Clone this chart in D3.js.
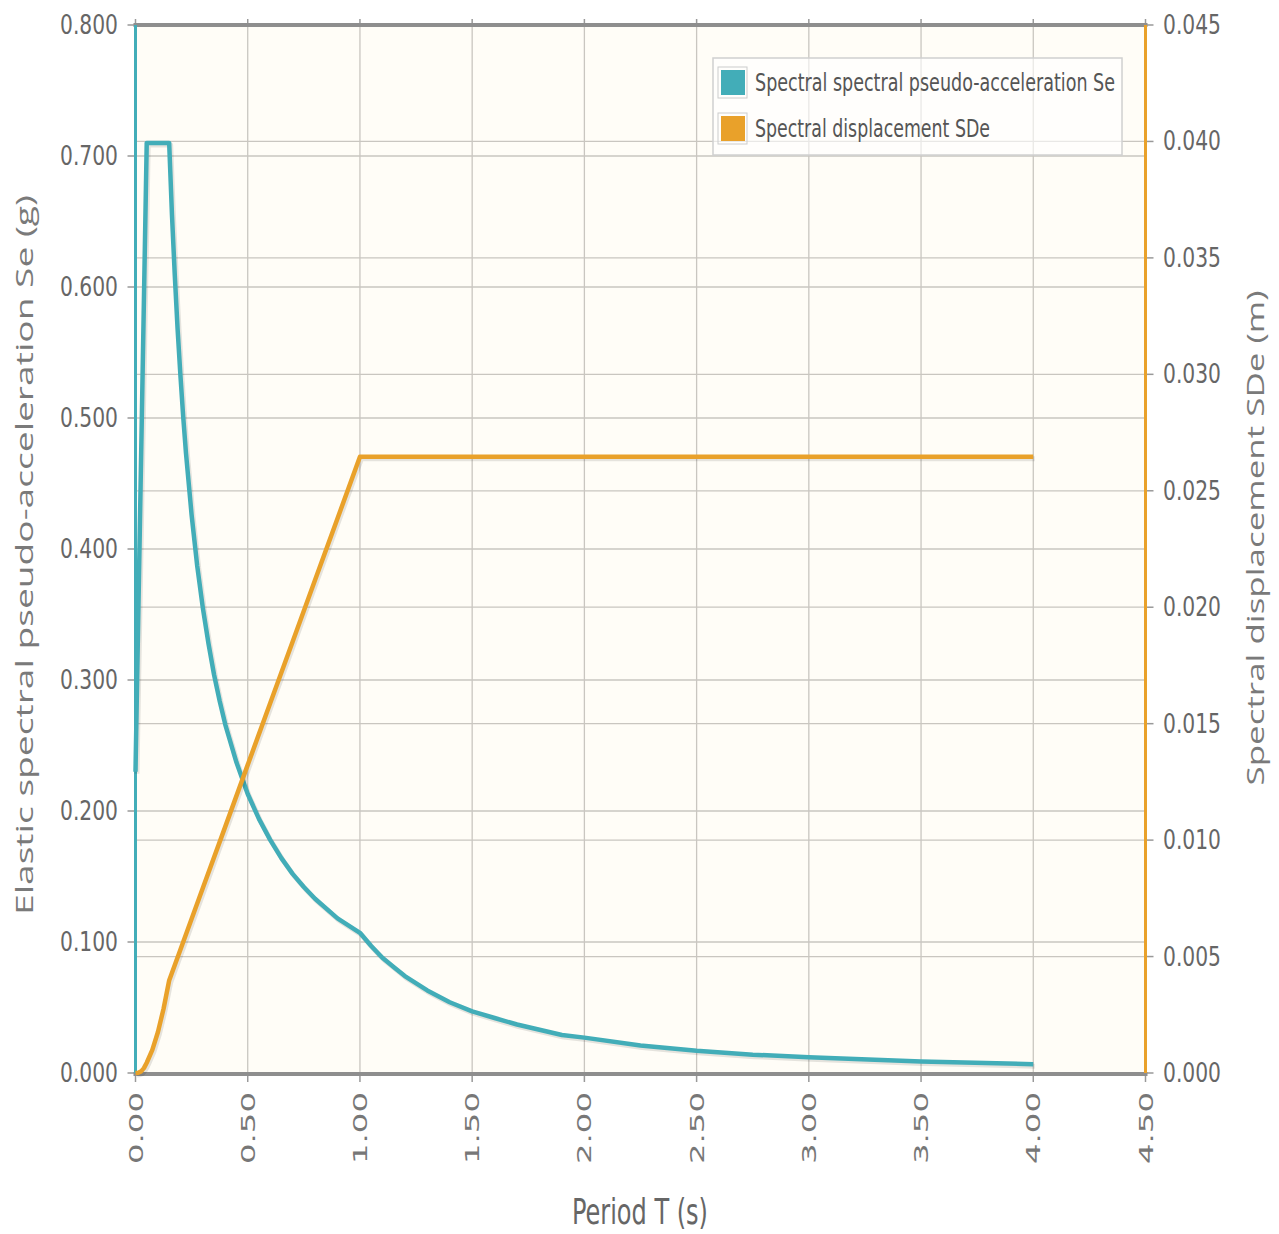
<!DOCTYPE html>
<html>
<head>
<meta charset="utf-8">
<script src="https://cdn.jsdelivr.net/npm/d3@7"></script>
<style>
  html, body { margin: 0; padding: 0; background: #ffffff; }
  svg { display: block; }
</style>
</head>
<body>
<svg id="chart" width="1279" height="1234"></svg>
<script>
// ---- data ----
const periodSe = [0, 0.05, 0.15, 0.1625, 0.175, 0.1875, 0.2, 0.2125, 0.225, 0.25, 0.275, 0.3, 0.325, 0.35, 0.375, 0.4, 0.45, 0.5,
                  0.55, 0.6, 0.65, 0.7, 0.75, 0.8, 0.9, 1.0, 1.05, 1.1, 1.15, 1.2, 1.3, 1.4, 1.5, 1.6, 1.7, 1.8, 1.9, 2.0,
                  2.25, 2.5, 2.75, 3.0, 3.5, 4.0];
const seValues = [0.23, 0.71, 0.71, 0.655, 0.609, 0.568, 0.533, 0.501, 0.473, 0.426, 0.387, 0.355, 0.328, 0.304, 0.284, 0.266, 0.237, 0.213,
                  0.194, 0.178, 0.164, 0.152, 0.142, 0.133, 0.118, 0.107, 0.097, 0.088, 0.081, 0.074, 0.063, 0.054, 0.047, 0.042, 0.037, 0.033, 0.029, 0.027,
                  0.021, 0.017, 0.014, 0.012, 0.0087, 0.0067];
const periodSd = [0, 0.0125, 0.025, 0.0375, 0.05, 0.075, 0.1, 0.125, 0.15, 0.2, 0.3, 0.4, 0.5, 0.6, 0.7, 0.8, 0.9, 1.0, 1.5, 2.0, 2.5, 3.0, 3.5, 4.0];
const sdValues = [0, 0.000014, 0.00007, 0.00021, 0.00044, 0.00099, 0.00176, 0.00276, 0.00397, 0.00529, 0.00794, 0.01058, 0.01323, 0.01588, 0.01852,
                  0.02117, 0.02381, 0.02646, 0.02646, 0.02646, 0.02646, 0.02646, 0.02646, 0.02646];
const xTicks = [0, 0.5, 1.0, 1.5, 2.0, 2.5, 3.0, 3.5, 4.0, 4.5];
const yLeftTicks = [0, 0.1, 0.2, 0.3, 0.4, 0.5, 0.6, 0.7, 0.8];
const yRightTicks = [0, 0.005, 0.01, 0.015, 0.02, 0.025, 0.03, 0.035, 0.04, 0.045];
const seriesNames = ["Spectral spectral pseudo-acceleration Se", "Spectral displacement SDe"];
const seriesColors = ["#42adb8", "#e9a12a"];
const titles = { x: "Period T (s)", yLeft: "Elastic spectral pseudo-acceleration Se  (g)", yRight: "Spectral displacement SDe  (m)" };

// ---- layout ----
const L = 135.5, R = 1145.5, T = 25, B = 1073;
const svg = d3.select("#chart");
const x = d3.scaleLinear().domain([0, 4.5]).range([L, R]);
const yL = d3.scaleLinear().domain([0, 0.8]).range([B, T]);
const yR = d3.scaleLinear().domain([0, 0.045]).range([B, T]);

// background
svg.append("rect").attr("x", L).attr("y", T).attr("width", R - L).attr("height", B - T).attr("fill", "#fffdf7");

// grid
const grid = svg.append("g").attr("stroke", "#c9c6c0").attr("stroke-width", 1.3);
grid.selectAll(".vx").data(xTicks).join("line")
  .attr("x1", d => x(d)).attr("x2", d => x(d)).attr("y1", T).attr("y2", B);
grid.selectAll(".hl").data(yLeftTicks).join("line")
  .attr("x1", L).attr("x2", R).attr("y1", d => yL(d)).attr("y2", d => yL(d));
grid.selectAll(".hr").data(yRightTicks).join("line")
  .attr("x1", L).attr("x2", R).attr("y1", d => yR(d)).attr("y2", d => yR(d));

// tick marks
const tk = svg.append("g").attr("stroke", "#999").attr("stroke-width", 1.5);
tk.selectAll(".tx").data(xTicks).join("line")
  .attr("x1", d => x(d)).attr("x2", d => x(d)).attr("y1", B).attr("y2", B + 9);
tk.selectAll(".tt").data(xTicks).join("line")
  .attr("x1", d => x(d)).attr("x2", d => x(d)).attr("y1", T - 6).attr("y2", T);
tk.selectAll(".tl").data(yLeftTicks).join("line")
  .attr("x1", L - 8).attr("x2", L).attr("y1", d => yL(d)).attr("y2", d => yL(d));
tk.selectAll(".tr").data(yRightTicks).join("line")
  .attr("x1", R).attr("x2", R + 8).attr("y1", d => yR(d)).attr("y2", d => yR(d));

// border
svg.append("line").attr("x1", L - 2).attr("x2", R + 2).attr("y1", T).attr("y2", T).attr("stroke", "#8e8e8e").attr("stroke-width", 4);
svg.append("line").attr("x1", L - 2).attr("x2", R + 2).attr("y1", B + 1).attr("y2", B + 1).attr("stroke", "#8e8e8e").attr("stroke-width", 4);
svg.append("line").attr("x1", L).attr("x2", L).attr("y1", T).attr("y2", B).attr("stroke", seriesColors[0]).attr("stroke-width", 3);
svg.append("line").attr("x1", R).attr("x2", R).attr("y1", T).attr("y2", B).attr("stroke", seriesColors[1]).attr("stroke-width", 3);

// series
const seData = periodSe.map((p, i) => [p, seValues[i]]);
const sdData = periodSd.map((p, i) => [p, sdValues[i]]);
const lineL = d3.line().x(d => x(d[0])).y(d => yL(d[1]));
const lineR = d3.line().x(d => x(d[0])).y(d => yR(d[1]));

[[seData, lineL, 0], [sdData, lineR, 1]].forEach(([data, gen, i]) => {
  svg.append("path").attr("d", gen(data)).attr("fill", "none")
    .attr("stroke", "rgba(0,0,0,0.10)").attr("stroke-width", 5)
    .attr("stroke-linejoin", "round").attr("transform", "translate(1.5,2)");
  svg.append("path").attr("d", gen(data)).attr("fill", "none")
    .attr("stroke", seriesColors[i]).attr("stroke-width", 4.5)
    .attr("stroke-linejoin", "round");
});

// tick labels
const narrow = "'Liberation Sans Narrow', 'DejaVu Sans Condensed', sans-serif";
svg.append("g").selectAll("text").data(yLeftTicks).join("text")
  .attr("x", 118).attr("y", d => yL(d) + 9)
  .attr("text-anchor", "end").attr("font-family", narrow).attr("font-size", 26)
  .attr("fill", "#666").attr("textLength", 58).attr("lengthAdjust", "spacingAndGlyphs")
  .text(d => d3.format(".3f")(d));
svg.append("g").selectAll("text").data(yRightTicks).join("text")
  .attr("x", 1163).attr("y", d => yR(d) + 9)
  .attr("text-anchor", "start").attr("font-family", narrow).attr("font-size", 26)
  .attr("fill", "#666").attr("textLength", 58).attr("lengthAdjust", "spacingAndGlyphs")
  .text(d => d3.format(".3f")(d));
svg.append("g").selectAll("text").data(xTicks).join("text")
  .attr("transform", d => `translate(${x(d) + 7},1092) rotate(-90)`)
  .attr("text-anchor", "end").attr("font-family", "'DejaVu Sans', sans-serif").attr("font-size", 20)
  .attr("fill", "#777").attr("textLength", 72).attr("lengthAdjust", "spacingAndGlyphs")
  .text(d => d3.format(".2f")(d));

// axis titles
svg.append("text").attr("transform", "translate(33,555) rotate(-90)")
  .attr("text-anchor", "middle").attr("font-family", "'Open Sans', sans-serif").attr("font-size", 24)
  .attr("fill", "#7a7a7a").attr("textLength", 720).attr("lengthAdjust", "spacingAndGlyphs")
  .text(titles.yLeft);
svg.append("text").attr("transform", "translate(1264,538) rotate(-90)")
  .attr("text-anchor", "middle").attr("font-family", "'Open Sans', sans-serif").attr("font-size", 24)
  .attr("fill", "#7a7a7a").attr("textLength", 495).attr("lengthAdjust", "spacingAndGlyphs")
  .text(titles.yRight);
svg.append("text").attr("x", 640).attr("y", 1224)
  .attr("text-anchor", "middle").attr("font-family", narrow).attr("font-size", 36)
  .attr("fill", "#666").attr("textLength", 136).attr("lengthAdjust", "spacingAndGlyphs")
  .text(titles.x);

// legend
const lg = svg.append("g");
lg.append("rect").attr("x", 713).attr("y", 58).attr("width", 409).attr("height", 97)
  .attr("fill", "rgba(255,255,255,0.6)").attr("stroke", "#d0d0d0").attr("stroke-width", 1.5);
const legLen = [360, 235];
seriesNames.forEach((name, i) => {
  const yy = 70 + i * 46;
  lg.append("rect").attr("x", 718).attr("y", yy - 3).attr("width", 29).attr("height", 31)
    .attr("fill", "none").attr("stroke", "#ccc").attr("stroke-width", 1);
  lg.append("rect").attr("x", 721).attr("y", yy).attr("width", 24).attr("height", 25)
    .attr("fill", seriesColors[i]);
  lg.append("text").attr("x", 755).attr("y", yy + 21)
    .attr("font-family", narrow).attr("font-size", 24).attr("fill", "#555")
    .attr("textLength", legLen[i]).attr("lengthAdjust", "spacingAndGlyphs")
    .text(name);
});
</script>
</body>
</html>
